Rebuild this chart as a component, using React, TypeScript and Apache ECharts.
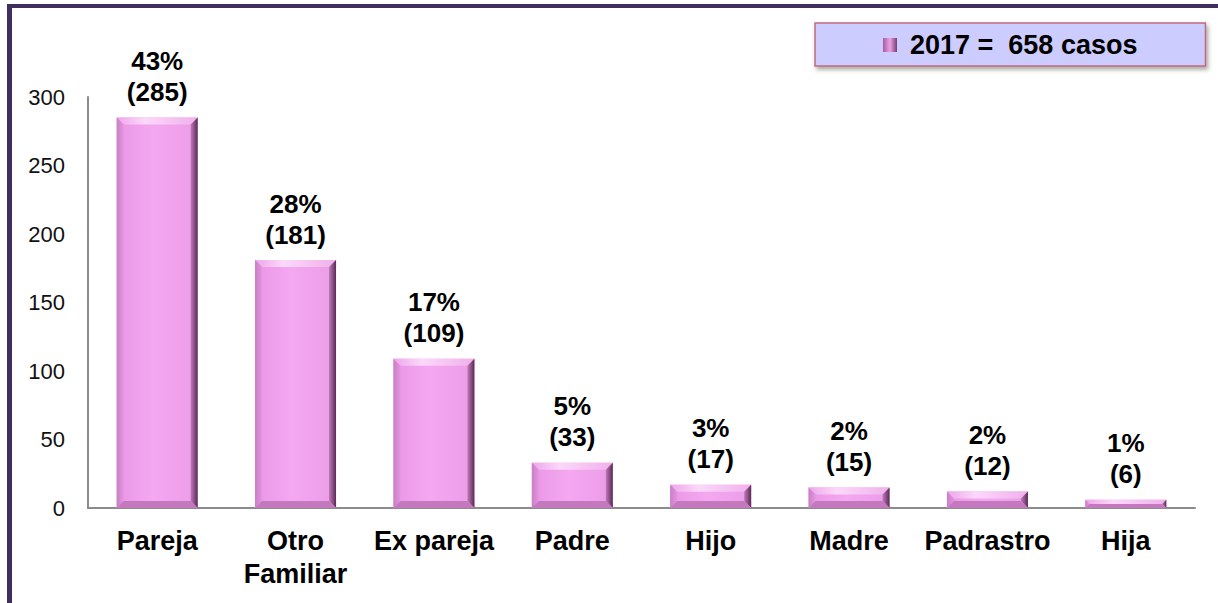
import React, { useEffect, useRef } from "react";
import * as echarts from "echarts";

const categories = ["Pareja", "Otro\nFamiliar", "Ex pareja", "Padre", "Hijo", "Madre", "Padrastro", "Hija"];
const values = [285, 181, 109, 33, 17, 15, 12, 6];
const percents = [43, 28, 17, 5, 3, 2, 2, 1];
const seriesName = "2017 =  658 casos";
const yTicks = { min: 0, max: 300, interval: 50 };

const FONT = "'Liberation Sans', Arial, sans-serif";

export default function App() {
  const ref = useRef<HTMLDivElement>(null);
  useEffect(() => {
    if (!ref.current) return;
    const chart = echarts.init(ref.current, null, { renderer: "svg" });
    const data = values.map((v, i) => [i, v, percents[i]]);
    const option: any = {
      animation: false,
      backgroundColor: "#ffffff",
      grid: { left: 88, right: 23, top: 97, bottom: 95, containLabel: false },
      legend: {
        show: true,
        left: 815,
        top: 23,
        orient: "horizontal",
        padding: [7, 68, 6, 68],
        backgroundColor: "#ccccff",
        borderColor: "#c46882",
        borderWidth: 1.5,
        borderRadius: 0,
        shadowBlur: 4,
        shadowColor: "rgba(60,70,50,0.45)",
        shadowOffsetX: 2,
        shadowOffsetY: 3,
        itemWidth: 14,
        itemHeight: 14,
        data: [
          {
            name: seriesName,
            icon: "rect",
            itemStyle: {
              color: new echarts.graphic.LinearGradient(0, 0, 1, 0, [
                { offset: 0, color: "#a85aa0" },
                { offset: 0.5, color: "#eaa4e6" },
                { offset: 1, color: "#7a3c72" },
              ]),
            },
          },
        ],
        textStyle: {
          fontFamily: FONT,
          fontWeight: "bold",
          fontSize: 27,
          color: "#000",
          lineHeight: 30,
          padding: [0, 0, 0, 8],
        },
      },
      xAxis: {
        type: "category",
        data: categories,
        axisLine: { show: true, lineStyle: { color: "#8c8c8c", width: 2 } },
        axisTick: { show: false },
        splitLine: { show: false },
        axisLabel: {
          interval: 0,
          margin: 16,
          fontFamily: FONT,
          fontWeight: "bold",
          fontSize: 27,
          lineHeight: 33,
          color: "#000",
        },
      },
      yAxis: {
        type: "value",
        min: yTicks.min,
        max: yTicks.max,
        interval: yTicks.interval,
        axisLine: { show: true, lineStyle: { color: "#8c8c8c", width: 2 } },
        axisTick: { show: false },
        splitLine: { show: false },
        axisLabel: {
          margin: 23,
          fontFamily: FONT,
          fontSize: 22,
          color: "#111",
        },
      },
      graphic: [
        { type: "rect", shape: { x: 7, y: 4, width: 5, height: 599 }, style: { fill: "#3f2e5e" }, z: 100 },
        { type: "rect", shape: { x: 7, y: 4, width: 1211, height: 4 }, style: { fill: "#3f2e5e" }, z: 100 },
      ],
      series: [
        {
          type: "custom",
          name: seriesName,
          data,
          encode: { x: 0, y: 1 },
          itemStyle: { color: "#e49ae0" },
          renderItem: (params: any, api: any) => {
            const idx = api.value(0);
            const val = api.value(1);
            const pct = api.value(2);
            const top = api.coord([idx, val]);
            const base = api.coord([idx, 0]);
            const w = api.size([1, 0])[0] * 0.585;
            const l = top[0] - w / 2;
            const r = top[0] + w / 2;
            const t = top[1];
            const b = base[1];
            const h = b - t;
            const d = Math.min(7, h / 2, w / 2);
            return {
              type: "group",
              children: [
                {
                  type: "rect",
                  shape: { x: l, y: t, width: w, height: h },
                  style: {
                    fill: new echarts.graphic.LinearGradient(0, 0, 1, 0, [
                      { offset: 0, color: "#ea96e6" },
                      { offset: 0.45, color: "#f4a8f0" },
                      { offset: 1, color: "#ec9ce8" },
                    ]),
                  },
                },
                {
                  type: "polygon",
                  shape: { points: [[l, t], [r, t], [r - d, t + d], [l + d, t + d]] },
                  style: {
                    fill: new echarts.graphic.LinearGradient(0, 0, 1, 0, [
                      { offset: 0, color: "#eea6ea" },
                      { offset: 0.35, color: "#fcd8fa" },
                      { offset: 1, color: "#f0b0ec" },
                    ]),
                  },
                },
                {
                  type: "polygon",
                  shape: { points: [[l, t], [l + d, t + d], [l + d, b - d], [l, b]] },
                  style: {
                    fill: new echarts.graphic.LinearGradient(0, 0, 1, 0, [
                      { offset: 0, color: "#c87ec4" },
                      { offset: 1, color: "#e496e0" },
                    ]),
                  },
                },
                {
                  type: "polygon",
                  shape: { points: [[r, t], [r - d, t + d], [r - d, b - d], [r, b]] },
                  style: {
                    fill: new echarts.graphic.LinearGradient(0, 0, 1, 0, [
                      { offset: 0, color: "#c07ab8" },
                      { offset: 1, color: "#5a2a54" },
                    ]),
                  },
                },
                {
                  type: "polygon",
                  shape: { points: [[l, b], [r, b], [r - d, b - d], [l + d, b - d]] },
                  style: { fill: "#c478be" },
                },
                {
                  type: "text",
                  x: top[0],
                  y: t - 10,
                  style: {
                    text: `${pct}%\n(${val})`,
                    fontFamily: FONT,
                    fontWeight: "bold",
                    fontSize: 26,
                    lineHeight: 31,
                    fill: "#000",
                    align: "center",
                    verticalAlign: "bottom",
                  },
                },
              ],
            };
          },
        },
      ],
    };
    chart.setOption(option);
    return () => chart.dispose();
  }, []);
  return (
    <div
      ref={ref}
      style={{ position: "absolute", left: 0, top: 0, width: 1218, height: 603 }}
    />
  );
}
